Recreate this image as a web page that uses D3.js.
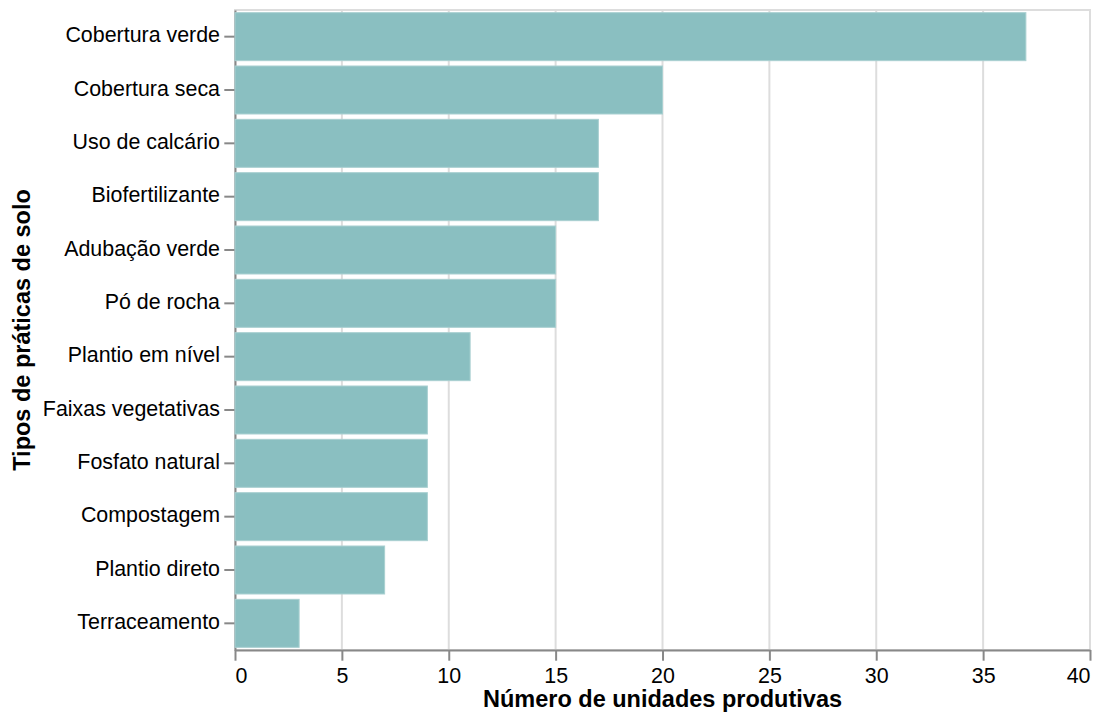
<!DOCTYPE html>
<html>
<head>
<meta charset="utf-8">
<script src="https://cdn.jsdelivr.net/npm/d3@7"></script>
<style>
  html, body { margin: 0; padding: 0; background: #fff; }
  svg { display: block; }
  text { font-family: "Liberation Sans", Arial, Helvetica, sans-serif; }
</style>
</head>
<body>
<svg id="chart" width="1099" height="722"></svg>
<script>
const categories = [
  "Cobertura verde", "Cobertura seca", "Uso de calcário", "Biofertilizante",
  "Adubação verde", "Pó de rocha", "Plantio em nível", "Faixas vegetativas",
  "Fosfato natural", "Compostagem", "Plantio direto", "Terraceamento"
];
const values = [37, 20, 17, 17, 15, 15, 11, 9, 9, 9, 7, 3];
const xTicks = [0, 5, 10, 15, 20, 25, 30, 35, 40];
const xTitle = "Número de unidades produtivas";
const yTitle = "Tipos de práticas de solo";

const data = categories.map((c, i) => ({ cat: c, val: values[i] }));

const margin = { left: 235, top: 10 };
const W = 855, H = 640;
const svg = d3.select("#chart");
const g = svg.append("g").attr("transform", `translate(${margin.left},${margin.top})`);

const x = d3.scaleLinear().domain([0, 40]).range([0, W]);
const y = d3.scaleBand().domain(categories).range([0, H]).paddingInner(0.1).paddingOuter(0.05);

const labelSize = 21.4, titleSize = 23.5;
const axisColor = "#888", gridColor = "#ddd";

// view border
g.append("rect").attr("x", 0).attr("y", 0).attr("width", W).attr("height", H)
  .attr("fill", "none").attr("stroke", gridColor).attr("stroke-width", 2);

// grid
g.append("g").selectAll("line").data(xTicks).join("line")
  .attr("x1", d => x(d)).attr("x2", d => x(d)).attr("y1", 0).attr("y2", H)
  .attr("stroke", gridColor).attr("stroke-width", 2);

// y axis (domain + ticks) drawn under bars
const yAxis = g.append("g").call(d3.axisLeft(y).tickSize(10.7).tickPadding(4.3).tickSizeOuter(0));
yAxis.select(".domain").attr("stroke", axisColor).attr("stroke-width", 2);
yAxis.selectAll(".tick line").attr("stroke", axisColor).attr("stroke-width", 2);
yAxis.selectAll(".tick text").attr("font-size", labelSize).attr("fill", "#000")
  .attr("font-family", "Liberation Sans, Arial, sans-serif")
  .attr("dy", null).attr("dominant-baseline", "middle");

// bars
g.append("g").selectAll("rect").data(data).join("rect")
  .attr("x", x(0)).attr("y", d => y(d.cat))
  .attr("width", d => x(d.val) - x(0)).attr("height", y.bandwidth())
  .attr("fill", "#8abfc1").attr("stroke", "#a9d0d1").attr("stroke-width", 1);

// x axis
const xAxis = g.append("g").attr("transform", `translate(0,${H})`)
  .call(d3.axisBottom(x).tickValues(xTicks).tickSize(10.7).tickPadding(4.3).tickSizeOuter(0));
xAxis.select(".domain").attr("stroke", axisColor).attr("stroke-width", 2);
xAxis.selectAll(".tick line").attr("stroke", axisColor).attr("stroke-width", 2);
xAxis.selectAll(".tick text").attr("font-size", labelSize).attr("fill", "#000")
  .attr("font-family", "Liberation Sans, Arial, sans-serif")
  .attr("dy", null).attr("y", 33)
  .attr("text-anchor", (d, i) => i === 0 ? "start" : (i === xTicks.length - 1 ? "end" : "middle"));

// titles
g.append("text").attr("x", W / 2).attr("y", 697).attr("text-anchor", "middle")
  .attr("font-size", titleSize).attr("font-weight", "bold").attr("fill", "#000").text(xTitle);
svg.append("text").attr("transform", `translate(30,${margin.top + H / 2}) rotate(-90)`)
  .attr("text-anchor", "middle").attr("font-size", titleSize).attr("font-weight", "bold")
  .attr("fill", "#000").text(yTitle);
</script>
</body>
</html>
